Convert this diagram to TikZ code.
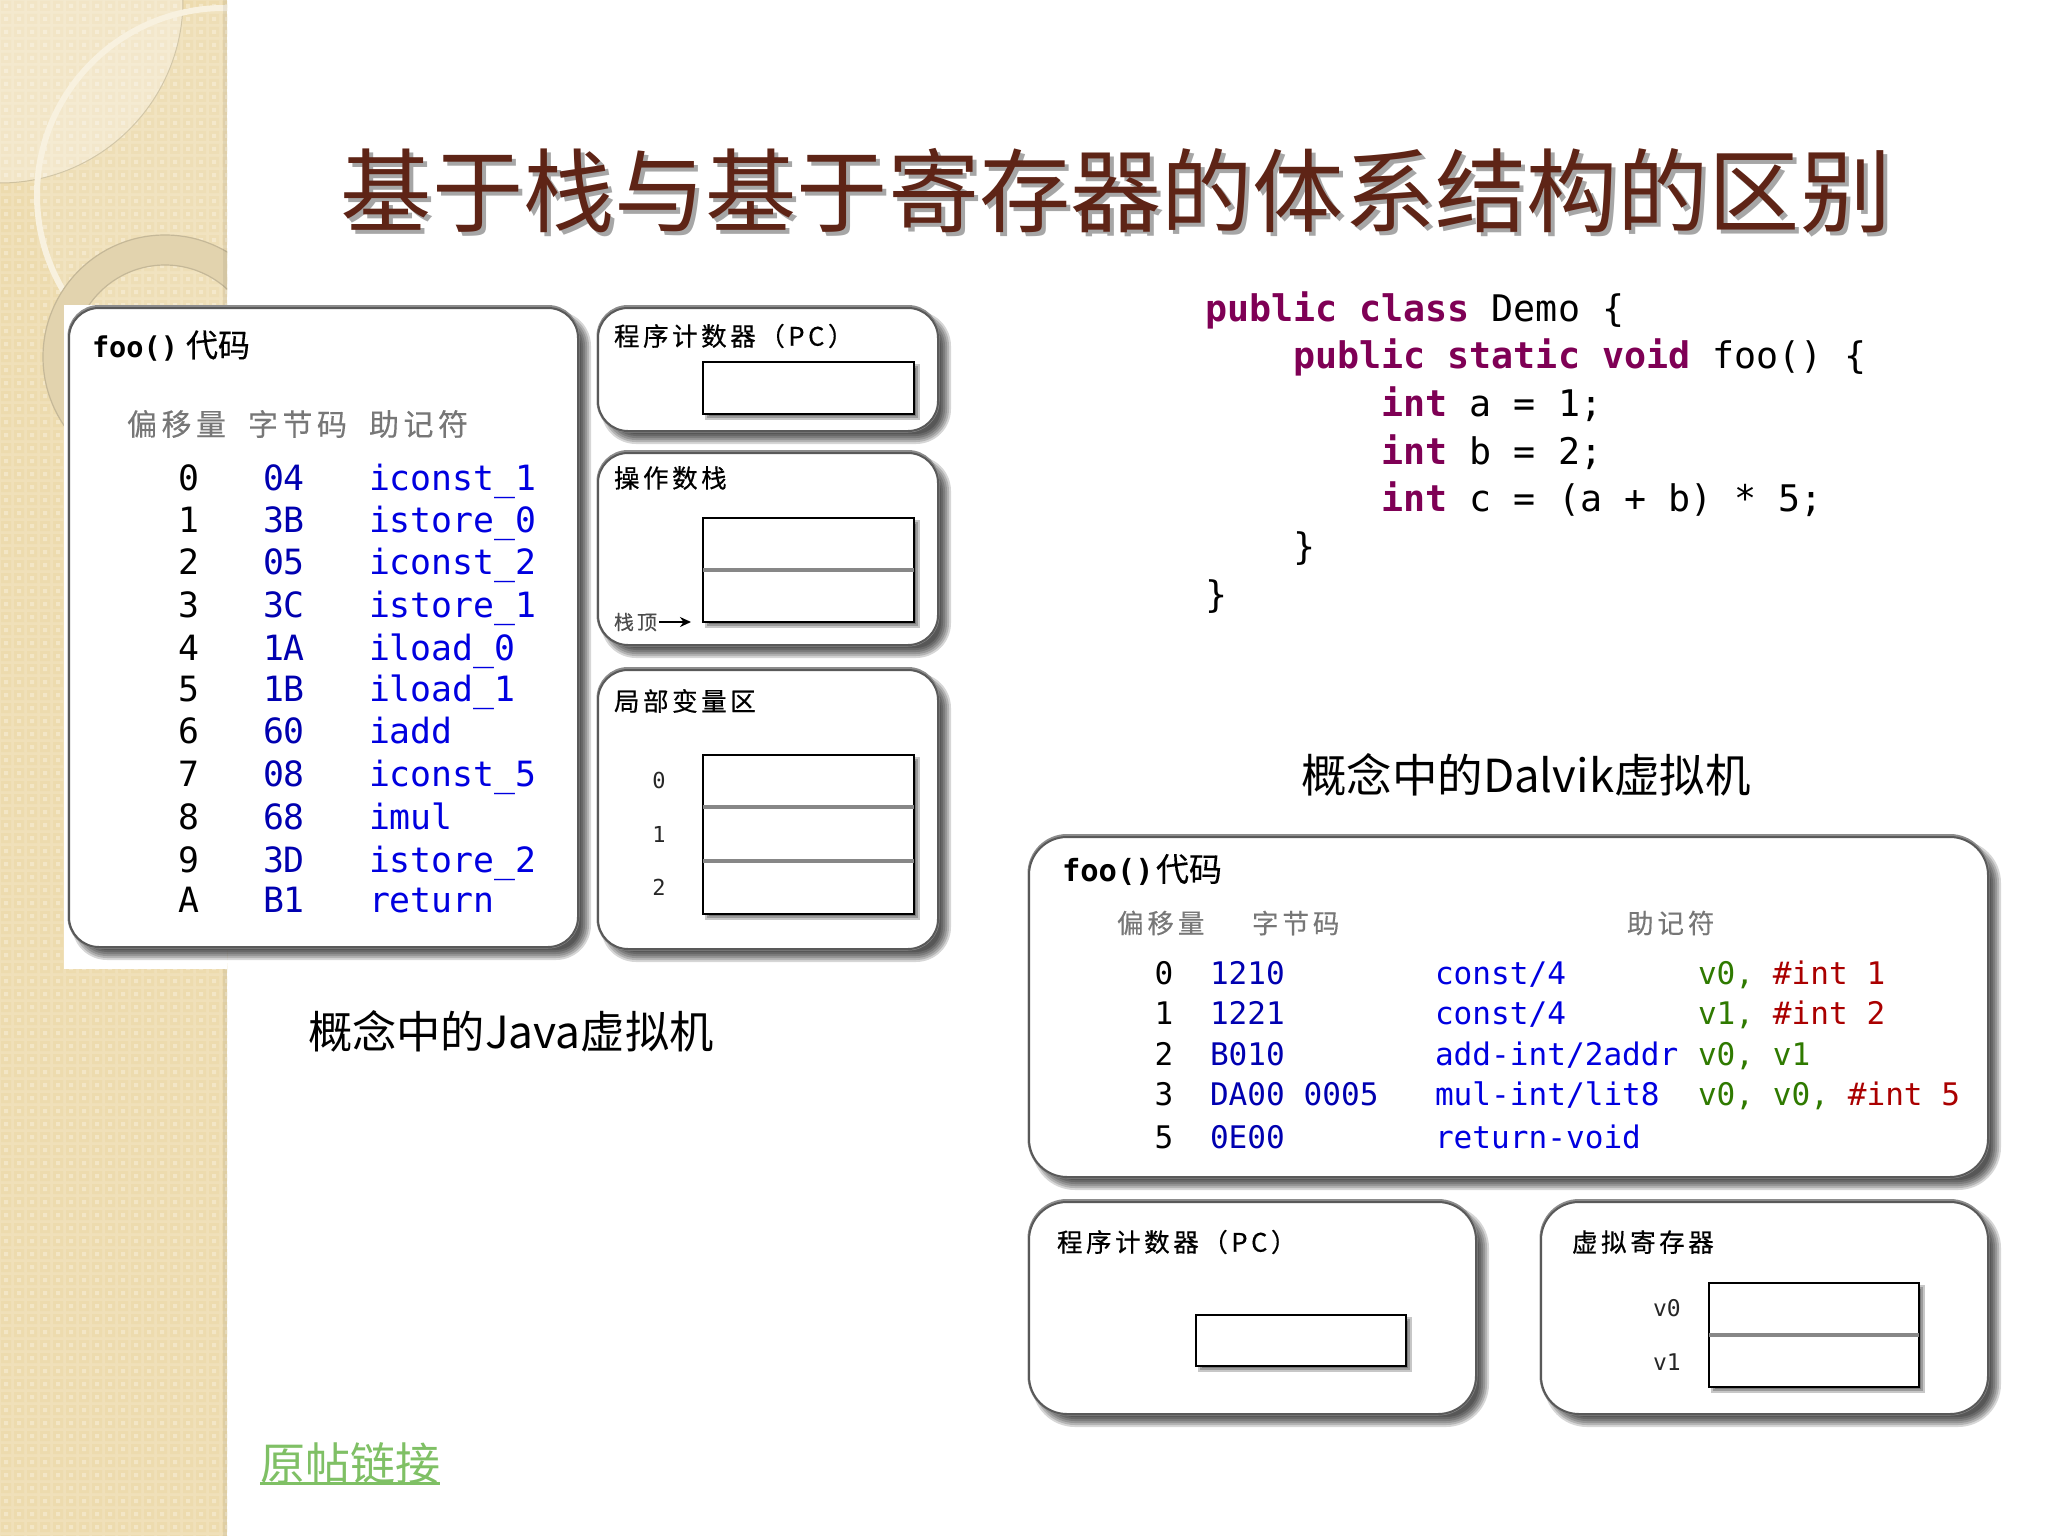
\documentclass[tikz,border=0pt]{standalone}
\usepackage{fontspec}
\usetikzlibrary{arrows.meta}
\setmainfont{Noto Sans CJK SC}
\newfontfamily\cjk{Noto Sans CJK SC}
\newfontfamily\cjks[LetterSpace=14,FakeBold=0.5]{Noto Sans CJK SC}
\newfontfamily\cjkg[LetterSpace=15,FakeBold=0.3]{Noto Sans CJK SC}
\newfontfamily\cjkc[FakeBold=0.3]{Noto Sans CJK SC}
\newfontfamily\monof{DejaVu Sans Mono}
\definecolor{side}{HTML}{F0E0B9}
\definecolor{sidedark}{HTML}{EDDBAE}
\definecolor{sidedot}{HTML}{F3E6C6}
\definecolor{titlec}{HTML}{5E2416}
\definecolor{kw}{HTML}{7F0055}
\definecolor{hdr}{HTML}{777777}
\definecolor{bytec}{HTML}{0000B0}
\definecolor{mnem}{HTML}{0000E0}
\definecolor{regc}{HTML}{2F7A00}
\definecolor{intc}{HTML}{AA0000}
\definecolor{linkc}{HTML}{7FC065}
\tikzset{
  x=1pt,y=-1pt,
  every node/.style={inner sep=0pt,outer sep=0pt},
  panel/.style={draw=black!65,line width=2pt,fill=white,rounded corners=#1pt},
  cell/.style={draw=black,line width=2.5pt,fill=white},
  divider/.style={draw=black!47,line width=3.5pt},
  titletext/.style={font=\cjk\fontsize{91.2}{91.2}\selectfont,text=titlec},
  headb/.style={font=\cjks\fontsize{25.5}{25.5}\selectfont,anchor=west,text=black},
  headg/.style={font=\cjkg\fontsize{#1}{#1}\selectfont,anchor=west,text=hdr},
  caption/.style={font=\cjk\fontsize{#1}{#1}\selectfont,anchor=west,text=black},
  code/.style={font=\monof\fontsize{36.65}{36.65}\selectfont,anchor=base west,text=black},
  rowl/.style={font=\monof\fontsize{34.8}{34.8}\selectfont,anchor=base west},
  rowr/.style={font=\monof\fontsize{31.1}{31.1}\selectfont,anchor=base west},
  small/.style={font=\monof\fontsize{#1}{#1}\selectfont,anchor=base,text=black!85},
}
\def\sl{/}
% soft shadow of a rounded panel
\newcommand{\softshadow}[6]{%
  \foreach \e in {-5,-3,-1,1,3,5}{%
    \fill[black,opacity=.16,rounded corners={max(#5+\e,1)*1pt}]
      ({#1+#6-\e},{#2+#6-\e}) rectangle ({#3+#6+\e},{#4+#6+\e});}%
}
\newcommand{\panelbox}[6]{% name x1 y1 x2 y2 radius
  \softshadow{#2}{#3}{#4}{#5}{#6}{8}%
  \draw[black!45,line width=3pt,rounded corners=#6pt] (#2,{#3-1.5}) rectangle (#4,#5);
  \node[panel=#6,minimum width={(#4-#2)*1pt},minimum height={(#5-#3)*1pt}] (#1) at ({(#2+#4)/2},{(#3+#5)/2}) {};
}
\newcommand{\cellbox}[5]{% name x1 y1 x2 y2
  \foreach \e in {-2,0,2}{%
    \fill[black,opacity=.22] ({#2+4-\e},{#3+4-\e}) rectangle ({#4+4+\e},{#5+4+\e});}%
  \node[cell,minimum width={(#4-#2)*1pt},minimum height={(#5-#3)*1pt}] (#1) at ({(#2+#4)/2},{(#3+#5)/2}) {};
}
\begin{document}
\begin{tikzpicture}
\useasboundingbox (0,0) rectangle (2048,1536);
\fill[white] (0,0) rectangle (2048,1536);
% ---- sidebar ----
\begin{scope}
\clip (0,0) rectangle (227,1536);
\fill[side] (0,0) rectangle (227,1536);
\fill[sidedark] \foreach \i in {0,...,17}{\foreach \j in {0,...,118}{
   ({\i*13+1},{\j*13+1}) rectangle +(10,10)}};
\fill[sidedot] \foreach \i in {0,...,17}{\foreach \j in {0,...,118}{
   ({\i*13+4},{\j*13+4}) rectangle +(4,4)}};
\fill[white,opacity=.3] (0,0) circle[radius=183];
\draw[black!14!side,line width=1pt] (0,0) circle[radius=183];
\fill[white,opacity=.1] (224,195) circle[radius=187];
\draw[color=white!55!side,line width=6pt] (224,195) circle[radius=187];
\fill[color=black!6!side,even odd rule] (165,357) circle[radius=122] (165,357) circle[radius=92];
\draw[color=black!18!side,line width=1.2pt] (165,357) circle[radius=122];
\draw[color=black!18!side,line width=1.2pt] (165,357) circle[radius=92];
\fill[black,opacity=.06] (223,0) rectangle (227,1536);
\end{scope}
\fill[white] (64,305) rectangle (227,969);
% ---- title ----
\node[titletext,text=black,opacity=.35] (titleshadow) at (1120,195) {基于栈与基于寄存器的体系结构的区别};
\node[titletext] (title) at (1116,191) {基于栈与基于寄存器的体系结构的区别};
% ---- left panels ----
\panelbox{foobox}{69}{308}{578}{947}{30}
\panelbox{pcbox}{598}{308}{938}{431}{30}
\panelbox{stackbox}{598}{453}{938}{645}{30}
\panelbox{localbox}{598}{670}{938}{949}{30}
\cellbox{pccell}{703}{362}{914}{414}
\cellbox{stackcell}{703}{518}{914}{622}
\draw[divider] (703,570) -- (914,570);
\cellbox{localcell}{703}{755}{914}{914}
\draw[divider] (703,807) -- (914,807);
\draw[divider] (703,861) -- (914,861);
\node[anchor=base west,font=\monof\bfseries\fontsize{28.6}{28.6}\selectfont] (foo1) at (92,357) {foo()};
\node[anchor=west,font=\cjkc\fontsize{32}{32}\selectfont] (foo1c) at (186,345) {代码};
\node[headg=30] (hl1) at (127,424) {偏移量};
\node[headg=30] (hl2) at (248,424) {字节码};
\node[headg=30] (hl3) at (369,424) {助记符};
\foreach \yy/\vo/\vb/\vm in {
  490/0/04/iconst\_1,532/1/3B/istore\_0,574/2/05/iconst\_2,617/3/3C/istore\_1,
  660/4/1A/iload\_0,701/5/1B/iload\_1,743/6/60/iadd,786/7/08/iconst\_5,
  829/8/68/imul,872/9/3D/istore\_2,912/A/B1/return}{
  \node[rowl,anchor=base,text=black] at (189,\yy) {\vo};
  \node[rowl,text=bytec] at (263,\yy) {\vb};
  \node[rowl,text=mnem] at (369,\yy) {\vm};
}
\node[headb] (hpc) at (614,336) {程序计数器（PC）};
\node[headb] (hst) at (614,478) {操作数栈};
\node[headb] (hlo) at (614,701) {局部变量区};
\node[anchor=west,font=\cjkg\fontsize{20}{20}\selectfont,text=black!70] (stacktop) at (614,622) {栈顶};
\coordinate (stackarrow) at (691,622);
\draw[-{Stealth[length=11pt,width=10pt]},line width=2.6pt] ([xshift=2pt]stacktop.east) -- (stackarrow);
\node[small=22] (l0) at (659,788) {0};
\node[small=22] (l1) at (659,842) {1};
\node[small=22] (l2) at (659,895) {2};
\node[caption=44.3] (javacap) at (308,1031) {概念中的Java虚拟机};
\node[font=\cjk\fontsize{45}{45}\selectfont,text=linkc] (link) at (350,1463) {原帖链接};
\draw[linkc,line width=3pt] (link.south west |- 0,1483) -- (link.south east |- 0,1483);
% ---- code ----
\def\cw{22.06}
\node[code] (c1) at (1205,321) {\textbf{\color{kw}public class} Demo \{};
\node[code] (c2) at ({1205+4*\cw},368) {\textbf{\color{kw}public static void} foo() \{};
\node[code] (c3) at ({1205+8*\cw},416) {\textbf{\color{kw}int} a = 1;};
\node[code] (c4) at ({1205+8*\cw},464) {\textbf{\color{kw}int} b = 2;};
\node[code] (c5) at ({1205+8*\cw},511) {\textbf{\color{kw}int} c = (a + b) * 5;};
\node[code] (c6) at ({1205+4*\cw},559) {\}};
\node[code] (c7) at (1205,607) {\}};
\node[caption=45.5] (dalvikcap) at (1301,775) {概念中的Dalvik虚拟机};
% ---- right panels ----
\panelbox{foobox2}{1029}{837}{1988}{1177}{38}
\panelbox{pcbox2}{1029}{1202}{1476}{1414}{38}
\panelbox{regbox}{1541}{1202}{1988}{1414}{38}
\cellbox{pccell2}{1196}{1315}{1406}{1366}
\cellbox{regcell}{1709}{1283}{1919}{1387}
\draw[divider] (1709,1335) -- (1919,1335);
\node[anchor=base west,font=\monof\bfseries\fontsize{30.5}{30.5}\selectfont] (foo2) at (1062,881) {foo()};
\node[anchor=west,font=\cjkc\fontsize{33}{33}\selectfont] (foo2c) at (1156,869) {代码};
\node[headg=26.5] (hr1) at (1117,923) {偏移量};
\node[headg=26.5] (hr2) at (1252,923) {字节码};
\node[headg=26.5] (hr3) at (1627,923) {助记符};
\foreach \yy/\vo/\vb/\vm/\va in {
  984/0/1210/const\sl 4/{\color{regc}v0,} {\color{intc}\#int 1},
  1024/1/1221/const\sl 4/{\color{regc}v1,} {\color{intc}\#int 2},
  1065/2/B010/add-int\sl 2addr/{\color{regc}v0, v1},
  1105/3/DA00 0005/mul-int\sl lit8/{\color{regc}v0, v0,} {\color{intc}\#int 5},
  1148/5/0E00/return-void/{}}{
  \node[rowr,anchor=base,text=black] at (1164,\yy) {\vo};
  \node[rowr,text=bytec] at (1210,\yy) {\vb};
  \node[rowr,text=mnem] at (1435,\yy) {\vm};
  \node[rowr] at (1698,\yy) {\va};
}
\node[headb] (hpc2) at (1057,1242) {程序计数器（PC）};
\node[headb] (hreg) at (1572,1242) {虚拟寄存器};
\node[small=23,anchor=base west] (v0) at (1653,1316) {v0};
\node[small=23,anchor=base west] (v1) at (1653,1370) {v1};
\end{tikzpicture}
\end{document}
